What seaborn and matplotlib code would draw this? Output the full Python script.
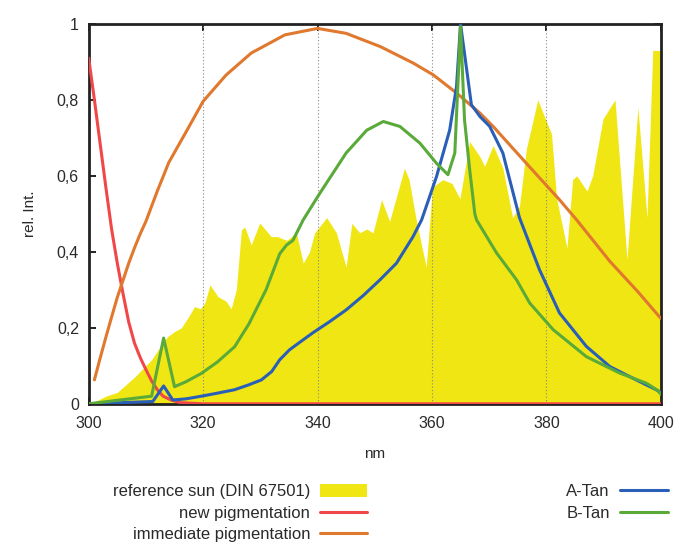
import numpy as np
import pandas as pd
import matplotlib
matplotlib.use("Agg")
import matplotlib.pyplot as plt
import seaborn as sns
from matplotlib.patches import Patch
from matplotlib.lines import Line2D

### values
sun_nm = [300, 301, 303, 305, 308, 311, 312.5, 313.8, 315, 316.2, 317.5, 318.5, 319.5, 320.3, 321.2,
          322.6, 324, 324.9, 325.8, 326.7, 327.3, 328.4, 329.9, 331.9, 333, 334.6, 336.3, 337.5,
          338.6, 339.5, 341.6, 343.3, 345, 346, 347.4, 348.6, 349.7, 351.2, 352.6, 355.2, 356,
          357.3, 359, 360.1, 361.9, 363.5, 364.9, 366.6, 368.4, 369.2, 370.7, 372.4, 374.1, 375.3,
          376.5, 378.5, 380.9, 381.8, 383.6, 384.6, 385.3, 387.1, 388.1, 389.9, 392, 393, 394.1,
          396, 397.6, 398.6, 399.8, 400]
sun_val = [0.0, 0.005, 0.02, 0.03, 0.07, 0.116, 0.15, 0.177, 0.19, 0.20, 0.23, 0.256, 0.25, 0.265,
           0.313, 0.282, 0.27, 0.25, 0.30, 0.458, 0.465, 0.418, 0.476, 0.44, 0.44, 0.43, 0.45, 0.37,
           0.40, 0.45, 0.49, 0.45, 0.36, 0.475, 0.45, 0.46, 0.45, 0.537, 0.48, 0.62, 0.59,
           0.48, 0.36, 0.57, 0.59, 0.58, 0.54, 0.69, 0.65, 0.625, 0.68, 0.62, 0.49, 0.52,
           0.67, 0.80, 0.71, 0.54, 0.41, 0.59, 0.60, 0.56, 0.60, 0.75, 0.80, 0.60, 0.38,
           0.78, 0.49, 0.93, 0.93, 0.93]

new_nm = [300, 301, 302, 303, 304, 305, 306, 307, 308, 309, 310, 311, 312, 313, 314.4, 316, 320, 400]
new_val = [0.91, 0.80, 0.685, 0.57, 0.46, 0.37, 0.29, 0.215, 0.16, 0.122, 0.09, 0.06, 0.037, 0.02,
           0.01, 0.003, 0.0, 0.0]

imm_nm = [301, 302, 303, 304, 305, 306, 307, 308, 309, 310, 312, 314, 317, 320, 324, 328.4, 334.3,
          340, 345, 351, 356.7, 360.2, 364.3, 368.4, 370.7, 376.5, 382.3, 385.3, 391.1, 396, 400]
imm_val = [0.063, 0.12, 0.175, 0.228, 0.28, 0.325, 0.37, 0.41, 0.447, 0.48, 0.56, 0.635, 0.715,
           0.796, 0.865, 0.923, 0.971, 0.988, 0.975, 0.94, 0.897, 0.866, 0.818, 0.765, 0.73, 0.633,
           0.537, 0.484, 0.375, 0.295, 0.225]

a_nm = [300, 311.2, 313.1, 314.7, 317, 319.7, 322.5, 325.5, 328, 330.2, 332, 333.4, 335.1, 337,
        339.2, 342, 345, 348, 350.9, 353.8, 356.7, 358.2, 360.8, 363.1, 364.3, 365, 366.9, 368.4,
        370.1, 372.4, 375.3, 378.8, 382.3, 387, 391.1, 395.7, 399.2, 400]
a_val = [0.0, 0.006, 0.047, 0.01, 0.013, 0.02, 0.028, 0.037, 0.05, 0.063, 0.085, 0.116, 0.142,
         0.163, 0.187, 0.215, 0.247, 0.285, 0.326, 0.37, 0.44, 0.484, 0.598, 0.72, 0.835, 1.0,
         0.787, 0.756, 0.73, 0.66, 0.49, 0.353, 0.239, 0.151, 0.098, 0.063, 0.037, 0.03]

b_nm = [300, 311, 313.1, 315, 317, 319.7, 322.5, 325.5, 328, 331, 333.4, 334.6, 335.7, 337.5, 340.4,
        345, 348.6, 351.5, 354.4, 357.9, 360.8, 362.8, 364, 365, 365.7, 366.6, 367.5, 367.8, 371.3,
        374.8, 377.1, 381.2, 387, 392.8, 397.5, 399.5, 400]
b_val = [0.0, 0.02, 0.173, 0.045, 0.058, 0.08, 0.11, 0.15, 0.21, 0.30, 0.395, 0.418, 0.43, 0.484,
         0.554, 0.66, 0.72, 0.743, 0.73, 0.686, 0.633, 0.603, 0.66, 0.993, 0.747, 0.616, 0.50,
         0.484, 0.397, 0.326, 0.265, 0.195, 0.124, 0.081, 0.054, 0.035, 0.025]

x_ticks = [300, 320, 340, 360, 380, 400]
y_ticks = [0, 0.2, 0.4, 0.6, 0.8, 1.0]
y_tick_labels = ["0", "0,2", "0,4", "0,6", "0,8", "1"]

YELLOW = "#f0e614"
RED = "#f04848"
ORANGE = "#e0782e"
BLUE = "#2a5fb8"
GREEN = "#5aaa3a"
TEXT = "#2a2a2a"

sns.set_style("ticks")
plt.rcParams['font.family'] = ['Liberation Sans', 'DejaVu Sans']

fig = plt.figure(figsize=(6.77, 5.42), dpi=100)
ax = fig.add_axes([0.131, 0.255, 0.845, 0.701])

ax.fill_between(sun_nm, sun_val, 0, color=YELLOW, linewidth=0, zorder=1)

curves = [(new_nm, new_val, RED), (imm_nm, imm_val, ORANGE), (a_nm, a_val, BLUE), (b_nm, b_val, GREEN)]
for xs, ys, c in curves:
    df = pd.DataFrame({"nm": xs, "val": ys})
    sns.lineplot(data=df, x="nm", y="val", color=c, linewidth=2.2, ax=ax, zorder=3, sort=False)

for gx in [320, 340, 360, 380]:
    ax.axvline(gx, color="#888888", linestyle=(0, (1, 2)), linewidth=0.8, zorder=2)

ax.set_xlim(300, 400)
ax.set_ylim(0, 1)
ax.set_xticks(x_ticks)
ax.set_yticks(y_ticks)
ax.set_yticklabels(y_tick_labels)
ax.tick_params(direction="in", length=5, width=1.4, top=True, right=True, labelsize=11.5,
               labelcolor=TEXT, color="#222222")
ax.tick_params(axis="x", pad=9)
ax.tick_params(axis="y", pad=7)
for s in ax.spines.values():
    s.set_linewidth(2)
    s.set_color("#222222")
ax.set_xlabel("nm", fontsize=11, labelpad=11, color=TEXT)
ax.set_ylabel("rel. Int.", fontsize=11, labelpad=14, color=TEXT)

left_handles = [Patch(facecolor=YELLOW, edgecolor="none"),
                Line2D([], [], color=RED, linewidth=2.2),
                Line2D([], [], color=ORANGE, linewidth=2.2)]
left_labels = ["reference sun (DIN 67501)", "new pigmentation", "immediate pigmentation"]
leg1 = fig.legend(left_handles, left_labels, loc="upper right", bbox_to_anchor=(367 / 677, 0.107),
                  frameon=False, markerfirst=False, fontsize=12, handlelength=2.8,
                  handleheight=0.8, labelspacing=0.38, handletextpad=0.6, borderpad=0,
                  borderaxespad=0, labelcolor=TEXT)
for t in leg1.get_texts():
    t.set_ha("right")

right_handles = [Line2D([], [], color=BLUE, linewidth=2.2),
                 Line2D([], [], color=GREEN, linewidth=2.2)]
right_labels = ["A-Tan", "B-Tan"]
fig.legend(right_handles, right_labels, loc="upper right", bbox_to_anchor=(668 / 677, 0.107),
           frameon=False, markerfirst=False, fontsize=12, handlelength=2.9,
           handleheight=0.8, labelspacing=0.38, handletextpad=0.6, borderpad=0,
           borderaxespad=0, labelcolor=TEXT)

fig.savefig("out.png", dpi=100)
